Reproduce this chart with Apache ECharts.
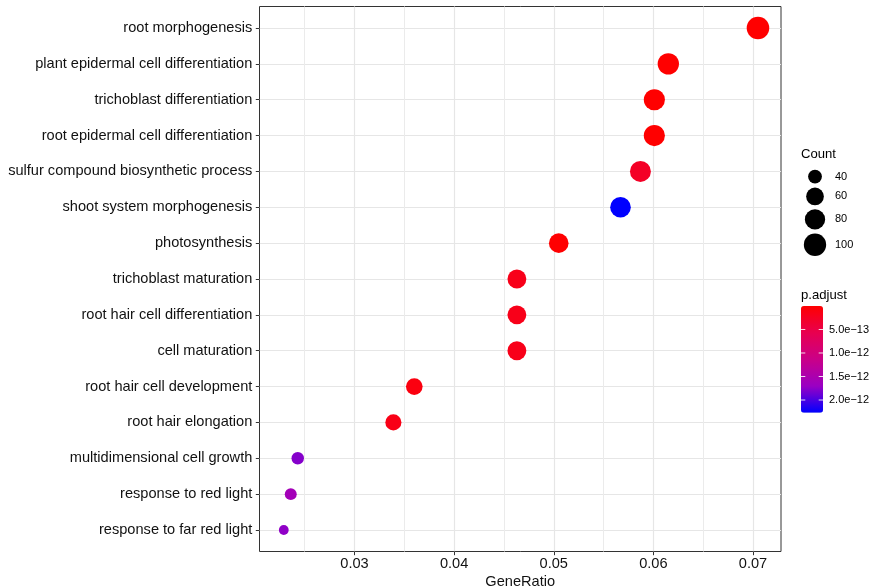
<!DOCTYPE html>
<html>
<head>
<meta charset="utf-8">
<script src="https://cdn.jsdelivr.net/npm/echarts@6/dist/echarts.min.js"></script>
<style>
  html, body { margin: 0; padding: 0; background: #fff; }
  #main { width: 871px; height: 587px; }
</style>
</head>
<body>
<div id="main"></div>
<script>
// GO 富集点图数据
var categories = [
  'root morphogenesis',
  'plant epidermal cell differentiation',
  'trichoblast differentiation',
  'root epidermal cell differentiation',
  'sulfur compound biosynthetic process',
  'shoot system morphogenesis',
  'photosynthesis',
  'trichoblast maturation',
  'root hair cell differentiation',
  'cell maturation',
  'root hair cell development',
  'root hair elongation',
  'multidimensional cell growth',
  'response to red light',
  'response to far red light'
];
var geneRatio = [0.0705, 0.0615, 0.0601, 0.0601, 0.0587, 0.0567, 0.0505, 0.0463, 0.0463, 0.0463, 0.0360, 0.0339, 0.0243, 0.0236, 0.0229];
var counts = [103, 90, 88, 88, 86, 83, 74, 68, 68, 68, 53, 50, 36, 35, 33];
var pAdjust = [2e-16, 1e-15, 3e-15, 3e-15, 2.7e-13, 2.27e-12, 8e-15, 1.8e-13, 1.8e-13, 1.8e-13, 1.1e-13, 1.6e-13, 1.78e-12, 1.6e-12, 1.74e-12];

// 坐标轴刻度
var xTicks = [0.03, 0.04, 0.05, 0.06, 0.07];
var xMinorTicks = [0.025, 0.035, 0.045, 0.055, 0.065];
var countBreaks = [40, 60, 80, 100];
var pBreaks = [5e-13, 1e-12, 1.5e-12, 2e-12];
var pLabels = ['5.0e\u221213', '1.0e\u221212', '1.5e\u221212', '2.0e\u221212'];

var FONT = '"Liberation Sans", Arial, sans-serif';

var cMin = Math.min.apply(null, counts);
var cMax = Math.max.apply(null, counts);
var pMin = Math.min.apply(null, pAdjust);
var pMax = Math.max.apply(null, pAdjust);

// 点大小按面积缩放
function sizeOf(c) {
  var t = Math.max(0, (c - cMin) / (cMax - cMin));
  return 9.8 + 12.8 * Math.sqrt(t);
}

var yIdx = categories.map(function (c, i) { return i; });
var points = categories.map(function (c, i) {
  return [geneRatio[i], i, counts[i], pAdjust[i]];
});

// 图例位置（右侧）
var legX = 801;
var barTop = 306, barH = 106.7, barW = 22;

var legendEls = [];
legendEls.push({
  type: 'text', left: legX, top: 147.5,
  style: { text: 'Count', font: '13.1px ' + FONT, fill: '#000' }
});
var ky = 167.7;
countBreaks.forEach(function (b) {
  var d = sizeOf(b);
  var h = Math.max(17, d + 4);
  var cy = ky + h / 2;
  legendEls.push({
    type: 'circle', shape: { cx: 815, cy: cy, r: d / 2 }, style: { fill: '#000' }
  });
  legendEls.push({
    type: 'text', x: 835, y: cy,
    style: { text: String(b), font: '11px ' + FONT, fill: '#000', verticalAlign: 'middle' }
  });
  ky += h;
});
legendEls.push({
  type: 'text', left: legX, top: 288.5,
  style: { text: 'p.adjust', font: '13.1px ' + FONT, fill: '#000' }
});
pBreaks.forEach(function (v, i) {
  var y = barTop + (v - pMin) / (pMax - pMin) * barH;
  legendEls.push({
    type: 'line', z: 100, shape: { x1: legX, y1: y, x2: legX + 4.3, y2: y },
    style: { stroke: 'rgba(255,255,255,0.85)', lineWidth: 1 }
  });
  legendEls.push({
    type: 'line', z: 100, shape: { x1: legX + barW - 4.3, y1: y, x2: legX + barW, y2: y },
    style: { stroke: 'rgba(255,255,255,0.85)', lineWidth: 1 }
  });
  legendEls.push({
    type: 'text', x: 829, y: y,
    style: { text: pLabels[i], font: '11px ' + FONT, fill: '#000', verticalAlign: 'middle' }
  });
});

var myChart = echarts.init(document.getElementById('main'), null, { renderer: 'canvas' });

var option = {
  backgroundColor: '#fff',
  animation: false,
  grid: {
    left: 259.5, top: 6.5, width: 521.5, height: 545,
    containLabel: false,
    outerBoundsMode: 'none',
    show: true, borderColor: '#333', borderWidth: 1, backgroundColor: 'transparent'
  },
  xAxis: [{
    type: 'value',
    min: 0.020462,
    max: 0.072811,
    position: 'bottom',
    name: 'GeneRatio',
    nameLocation: 'middle',
    nameGap: 22.5,
    nameMoveOverlap: false,
    nameTextStyle: { fontFamily: FONT, fontSize: 14.6, color: '#111' },
    axisLine: { show: false, onZero: false },
    axisTick: { show: true, length: 3.7, customValues: xTicks, lineStyle: { color: '#333' } },
    axisLabel: {
      customValues: xTicks, margin: 5,
      fontFamily: FONT, fontSize: 14.6, color: '#111',
      formatter: function (v) { return v.toFixed(2); }
    },
    splitLine: { show: true, lineStyle: { color: '#E6E6E6', width: 1.2 } }
  }, {
    // 次要网格线
    type: 'value',
    min: 0.020462,
    max: 0.072811,
    position: 'bottom',
    axisLine: { show: false, onZero: false },
    axisTick: { show: false, customValues: xMinorTicks },
    axisLabel: { show: false, customValues: xMinorTicks },
    splitLine: { show: true, lineStyle: { color: '#EBEBEB', width: 1 } }
  }],
  yAxis: {
    type: 'value',
    min: -0.6,
    max: 14.6,
    inverse: true,
    axisLine: { show: false, onZero: false },
    axisTick: { show: true, length: 3.7, customValues: yIdx, lineStyle: { color: '#333' } },
    axisLabel: {
      customValues: yIdx, margin: 7.2,
      fontFamily: FONT, fontSize: 14.6, color: '#111',
      formatter: function (v) { return categories[Math.round(v)]; }
    },
    splitLine: { show: true, lineStyle: { color: '#E6E6E6', width: 1.2 } }
  },
  visualMap: {
    type: 'continuous',
    min: pMin,
    max: pMax,
    dimension: 3,
    seriesIndex: 0,
    inverse: true,
    orient: 'vertical',
    left: legX - 5,
    top: barTop - 5,
    padding: 5,
    itemWidth: barW,
    itemHeight: barH,
    calculable: false,
    hoverLink: false,
    inRange: { color: ['#FF0000', '#E8004F', '#CA0088', '#9A00C3', '#0000FF'] }
  },
  series: [{
    type: 'scatter',
    xAxisIndex: 0,
    data: points,
    symbol: 'circle',
    symbolSize: function (d) { return sizeOf(d[2]); },
    itemStyle: { opacity: 1 },
    z: 5
  }],
  graphic: legendEls
};

myChart.setOption(option);
</script>
</body>
</html>
